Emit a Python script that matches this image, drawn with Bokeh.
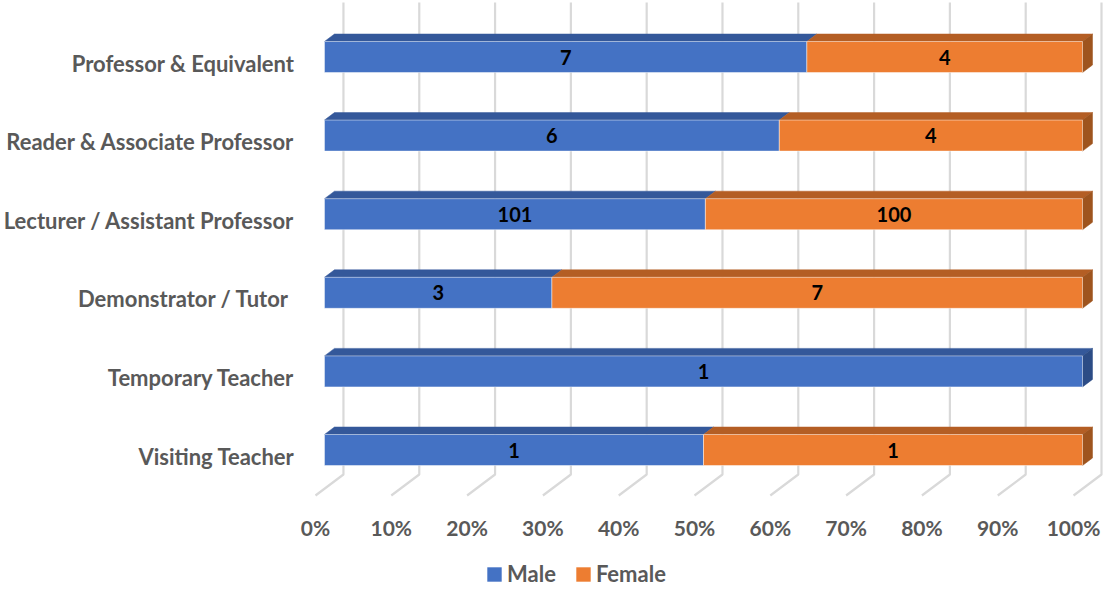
from bokeh.plotting import figure
from bokeh.layouts import column
from bokeh.models import (Range1d, LinearAxis, FixedTicker, Legend, LegendItem,
                          ColumnDataSource)
from bokeh.core.properties import value
from bokeh.embed import file_html
from bokeh.resources import INLINE

# ---------------- data ----------------
categories = ["Visiting Teacher", "Temporary Teacher", "Demonstrator / Tutor ",
              "Lecturer / Assistant Professor", "Reader & Associate Professor",
              "Professor & Equivalent"]
male = [1, 1, 3, 101, 6, 7]
female = [1, 0, 7, 100, 4, 4]
series_names = ["Male", "Female"]
x_ticks = [0, 10, 20, 30, 40, 50, 60, 70, 80, 90, 100]
x_tick_labels = ["0%", "10%", "20%", "30%", "40%", "50%", "60%", "70%", "80%", "90%", "100%"]

# ---------------- style / geometry (pixels) ----------------
W, H, LEG_H = 1103, 550, 37
FL, FR, FT, FB = 308, 1103, 0, 500          # frame box on the canvas
X0_PX, X100_PX = 323, 1082                   # bar front 0% / 100%
PXU = (X100_PX - X0_PX) / 100.0
ROW0_PX, ROW_STEP = 449.5, 78.6              # first row centre / spacing
BAR_HALF_PX = 15.5
DEPTH_DX_PX, DEPTH_DY_PX = 10, 7.5           # bar depth
BACK_DX_PX = 19                              # back wall offset
FLOOR_DX_PX = -9                             # floor front offset
GRID_TOP_PX, FLOOR_BACK_PX, FLOOR_FRONT_PX = 2, 474, 495
LABEL_DROP_PX = 6
LEGEND_X_PX = 484

BLUE, BLUE_TOP, BLUE_SIDE = "#4472C4", "#34589A", "#2C4C86"
ORANGE, ORANGE_TOP, ORANGE_SIDE = "#ED7D31", "#B45E24", "#9E541E"
GREY_TXT = "#595959"
GRID = "#D9D9D9"
FONT = "Lato"

def px_to_x(px):
    return (px - X0_PX) / PXU

def px_to_y(py):
    return (ROW0_PX - py) / ROW_STEP

dxu = DEPTH_DX_PX / PXU
dyu = DEPTH_DY_PX / ROW_STEP
half = BAR_HALF_PX / ROW_STEP

x_range = Range1d(px_to_x(FL), px_to_x(FR))
y_range = Range1d(px_to_y(FB), px_to_y(FT))

p = figure(width=W, height=H, x_range=x_range, y_range=y_range,
           x_axis_type=None, y_axis_type=None, output_backend="svg",
           toolbar_location=None, min_border_left=FL, min_border_right=W - FR,
           min_border_top=FT, min_border_bottom=H - FB,
           background_fill_color="white", border_fill_color="white",
           outline_line_color=None)
p.xgrid.visible = False
p.ygrid.visible = False

# floor range so that tick labels sit at the floor's front edge
floor_off = FLOOR_DX_PX / PXU
p.extra_x_ranges["floor"] = Range1d(x_range.start - floor_off, x_range.end - floor_off)
lab_off = LABEL_DROP_PX / ROW_STEP
p.extra_y_ranges["cat"] = Range1d(y_range.start + lab_off, y_range.end + lab_off)

# ---------------- gridlines (back wall + floor) ----------------
back_off = BACK_DX_PX / PXU
gxs, gys = [], []
for t in x_ticks:
    gxs.append([t + back_off, t + back_off, t + floor_off])
    gys.append([px_to_y(GRID_TOP_PX), px_to_y(FLOOR_BACK_PX), px_to_y(FLOOR_FRONT_PX)])
p.multi_line(gxs, gys, line_color=GRID, line_width=2.2)

# ---------------- bars ----------------
rows = list(range(len(categories)))
tot = [m + f for m, f in zip(male, female)]
m_pct = [100.0 * m / t for m, t in zip(male, tot)]
f_pct = [100.0 * f / t for f, t in zip(female, tot)]

segs = []  # (left, right, row, value, colors, series)
for i in rows:
    segs.append((0.0, m_pct[i], i, male[i], (BLUE, BLUE_TOP, BLUE_SIDE), "Male"))
    segs.append((m_pct[i], m_pct[i] + f_pct[i], i, female[i], (ORANGE, ORANGE_TOP, ORANGE_SIDE), "Female"))

top_xs, top_ys, top_c = [], [], []
side_xs, side_ys, side_c = [], [], []
for l, r, i, v, cols, name in segs:
    if r - l <= 0:
        continue
    t, b = i + half, i - half
    top_xs.append([l, r, r + dxu, l + dxu])
    top_ys.append([t, t, t + dyu, t + dyu])
    top_c.append(cols[1])
    if abs(r - 100) < 1e-9:
        side_xs.append([r, r + dxu, r + dxu, r])
        side_ys.append([t, t + dyu, b + dyu, b])
        side_c.append(cols[2])

p.patches(top_xs, top_ys, fill_color=top_c, line_color=top_c, line_width=0.5)
p.patches(side_xs, side_ys, fill_color=side_c, line_color=side_c, line_width=0.5)

sources = {}
for name, cols in (("Male", BLUE), ("Female", ORANGE)):
    ss = [s for s in segs if s[5] == name and s[1] - s[0] > 0]
    src = ColumnDataSource(dict(left=[s[0] for s in ss], right=[s[1] for s in ss],
                                bottom=[s[2] - half for s in ss], top=[s[2] + half for s in ss]))
    sources[name] = src
    p.quad(left="left", right="right", bottom="bottom", top="top", source=src,
           fill_color=cols, line_color="white", line_alpha=0.45, line_width=1)

# data labels
lx, ly, lt = [], [], []
for l, r, i, v, cols, name in segs:
    if v == 0:
        continue
    lx.append((l + r) / 2.0)
    ly.append(i)
    lt.append(str(v))
p.text(x=lx, y=ly, text=lt, text_align="center", text_baseline="middle",
       text_font=value(FONT), text_font_style="bold", text_font_size="20px",
       text_color="black")

# ---------------- axes ----------------
xaxis = LinearAxis(x_range_name="floor", ticker=FixedTicker(ticks=x_ticks, minor_ticks=[]),
                   major_label_overrides={t: s for t, s in zip(x_ticks, x_tick_labels)})
yaxis = LinearAxis(y_range_name="cat", ticker=FixedTicker(ticks=rows, minor_ticks=[]),
                   major_label_overrides={i: c for i, c in zip(rows, categories)})
for ax, so, fs in ((xaxis, 14, "21px"), (yaxis, 15, "22px")):
    ax.axis_line_color = None
    ax.major_tick_line_color = None
    ax.minor_tick_line_color = None
    ax.major_tick_out = 0
    ax.major_tick_in = 0
    ax.major_label_standoff = so
    ax.major_label_text_font = FONT
    ax.major_label_text_font_style = "bold"
    ax.major_label_text_font_size = fs
    ax.major_label_text_color = GREY_TXT
p.add_layout(xaxis, "below")
p.add_layout(yaxis, "left")

# ---------------- legend (separate strip below the chart) ----------------
q = figure(width=W, height=LEG_H, x_range=Range1d(0, 1), y_range=Range1d(0, 1),
           x_axis_type=None, y_axis_type=None, output_backend="svg",
           toolbar_location=None, min_border=0, outline_line_color=None,
           background_fill_color="white", border_fill_color="white")
q.xgrid.visible = False
q.ygrid.visible = False
items = []
for name, cols in zip(series_names, (BLUE, ORANGE)):
    r = q.quad(left="left", right="right", bottom="bottom", top="top", source=sources[name],
               fill_color=cols, line_color=None, visible=False)
    items.append(LegendItem(label=name, renderers=[r]))
legend = Legend(items=items, orientation="horizontal", location=(LEGEND_X_PX - FL, 0),
                glyph_width=18, glyph_height=18, label_standoff=4, spacing=18,
                padding=0, margin=0, border_line_color=None, background_fill_alpha=0,
                inactive_fill_alpha=0,
                label_text_font=FONT, label_text_font_style="bold",
                label_text_font_size="22px", label_text_color=GREY_TXT)
q.add_layout(legend, "center")

layout = column(p, q, spacing=0)
open("out.html", "w").write(file_html(layout, INLINE))
